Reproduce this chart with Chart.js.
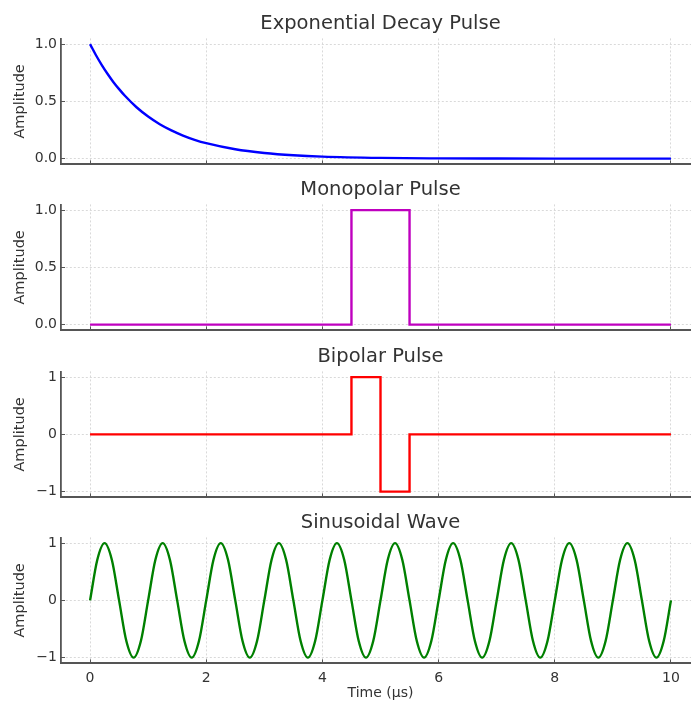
<!DOCTYPE html>
<html>
<head>
<meta charset="utf-8">
<script src="https://cdn.jsdelivr.net/npm/chart.js@4/dist/chart.umd.min.js"></script>
<style>
  body { margin: 0; background: #fff; }
  #wrap { position: relative; width: 691px; height: 702px; overflow: hidden; }
  canvas { position: absolute; left: 0; }
</style>
</head>
<body>
<div id="wrap">
  <canvas id="c1" width="700" height="159" style="top:12px"></canvas>
  <canvas id="c2" width="700" height="159" style="top:178px"></canvas>
  <canvas id="c3" width="700" height="159" style="top:345px"></canvas>
  <canvas id="c4" width="700" height="191" style="top:511px"></canvas>
</div>
<script>
// time axis ticks (µs)
const xTicks = [0, 2, 4, 6, 8, 10];
const unitTicks = [0, 0.5, 1];
const bipolarTicks = [-1, 0, 1];

// exponential decay pulse
const decayTimes = [0, 0.1, 0.2, 0.3, 0.4, 0.5, 0.6, 0.8, 1.0, 1.2, 1.4, 1.6, 1.8, 2.0, 2.5, 3, 3.5, 4, 5, 6, 7, 8, 10];
const decayValues = [1.0, 0.905, 0.819, 0.741, 0.67, 0.607, 0.549, 0.449, 0.368, 0.301, 0.247, 0.202, 0.165, 0.135,
  0.082, 0.05, 0.03, 0.018, 0.0067, 0.0025, 0.0009, 0.0003, 0];

// monopolar pulse
const monoTimes = [0, 4.5, 4.5, 5.5, 5.5, 10];
const monoValues = [0, 0, 1, 1, 0, 0];

// bipolar pulse
const bipolarTimes = [0, 4.5, 4.5, 5.0, 5.0, 5.5, 5.5, 10];
const bipolarValues = [0, 0, 1, 1, -1, -1, 0, 0];

// sinusoidal wave, 1 µs period
const sineTimes = [
  0, 0.125, 0.25, 0.375, 0.5, 0.625, 0.75, 0.875,
  1, 1.125, 1.25, 1.375, 1.5, 1.625, 1.75, 1.875,
  2, 2.125, 2.25, 2.375, 2.5, 2.625, 2.75, 2.875,
  3, 3.125, 3.25, 3.375, 3.5, 3.625, 3.75, 3.875,
  4, 4.125, 4.25, 4.375, 4.5, 4.625, 4.75, 4.875,
  5, 5.125, 5.25, 5.375, 5.5, 5.625, 5.75, 5.875,
  6, 6.125, 6.25, 6.375, 6.5, 6.625, 6.75, 6.875,
  7, 7.125, 7.25, 7.375, 7.5, 7.625, 7.75, 7.875,
  8, 8.125, 8.25, 8.375, 8.5, 8.625, 8.75, 8.875,
  9, 9.125, 9.25, 9.375, 9.5, 9.625, 9.75, 9.875,
  10
];
const sineValues = [
  0, 0.71, 1, 0.71, 0, -0.71, -1, -0.71,
  0, 0.71, 1, 0.71, 0, -0.71, -1, -0.71,
  0, 0.71, 1, 0.71, 0, -0.71, -1, -0.71,
  0, 0.71, 1, 0.71, 0, -0.71, -1, -0.71,
  0, 0.71, 1, 0.71, 0, -0.71, -1, -0.71,
  0, 0.71, 1, 0.71, 0, -0.71, -1, -0.71,
  0, 0.71, 1, 0.71, 0, -0.71, -1, -0.71,
  0, 0.71, 1, 0.71, 0, -0.71, -1, -0.71,
  0, 0.71, 1, 0.71, 0, -0.71, -1, -0.71,
  0, 0.71, 1, 0.71, 0, -0.71, -1, -0.71,
  0
];

const textColor = '#333';
const fontFamily = '"DejaVu Sans", sans-serif';
const titleBlock = 26.4; // title line height + padding

function toPoints(xs, ys) {
  return xs.map((x, i) => ({ x: x, y: ys[i] }));
}

function makePanel(id, opts) {
  const canvas = document.getElementById(id);
  const xAxisHeight = canvas.height - titleBlock - 126;
  return new Chart(canvas, {
    type: 'line',
    data: {
      datasets: [{
        data: toPoints(opts.times, opts.values),
        borderColor: opts.color,
        borderWidth: 2.4,
        pointRadius: 0,
        fill: false,
        cubicInterpolationMode: opts.smooth ? 'monotone' : 'default',
        tension: 0
      }]
    },
    options: {
      responsive: false,
      animation: false,
      layout: { padding: 0 },
      plugins: {
        legend: { display: false },
        tooltip: { enabled: false },
        title: {
          display: true,
          fullSize: false,
          text: opts.title,
          color: textColor,
          font: { family: fontFamily, size: 19.5, weight: 'normal', lineHeight: 1.2 },
          padding: { top: 0, bottom: 3 }
        }
      },
      scales: {
        x: {
          type: 'linear',
          min: -0.5,
          max: 10.5,
          afterBuildTicks: s => { s.ticks = xTicks.map(v => ({ value: v })); },
          afterFit: s => {
            s.height = xAxisHeight;
            s.paddingLeft = 0;
            s.paddingRight = 0;
          },
          ticks: {
            display: opts.showX,
            color: textColor,
            font: { family: fontFamily, size: 14 },
            padding: 11,
            maxRotation: 0,
            callback: v => String(v)
          },
          grid: { color: '#d9d9d9', lineWidth: 1, tickLength: -4, tickColor: '#555', tickWidth: 1 },
          border: { display: true, color: '#555', width: 2, dash: [2, 2] },
          title: {
            display: opts.showX,
            text: 'Time (µs)',
            color: textColor,
            font: { family: fontFamily, size: 14 },
            padding: { top: 0, bottom: 0 }
          }
        },
        y: {
          type: 'linear',
          min: opts.yMin,
          max: opts.yMax,
          afterBuildTicks: s => { s.ticks = opts.yTicks.map(v => ({ value: v })); },
          afterFit: s => {
            s.width = 61;
            s.paddingTop = 0;
            s.paddingBottom = 0;
          },
          ticks: {
            color: textColor,
            font: { family: fontFamily, size: 14 },
            padding: 8,
            callback: opts.fmt
          },
          grid: { color: '#d9d9d9', lineWidth: 1, tickLength: -4, tickColor: '#555', tickWidth: 1 },
          border: { display: true, color: '#555', width: 1.8, dash: [2, 2] },
          title: {
            display: true,
            text: 'Amplitude',
            color: textColor,
            font: { family: fontFamily, size: 14.5 },
            padding: { top: 12, bottom: 0 }
          }
        }
      }
    }
  });
}

const fmtOne = v => v.toFixed(1);
const fmtInt = v => (v < 0 ? '\u2212' + Math.abs(v) : String(v));

makePanel('c1', {
  title: 'Exponential Decay Pulse', times: decayTimes, values: decayValues,
  color: '#0000ff', smooth: true, yMin: -0.05, yMax: 1.05, yTicks: unitTicks, fmt: fmtOne, showX: false
});
makePanel('c2', {
  title: 'Monopolar Pulse', times: monoTimes, values: monoValues,
  color: '#bf00bf', smooth: false, yMin: -0.05, yMax: 1.05, yTicks: unitTicks, fmt: fmtOne, showX: false
});
makePanel('c3', {
  title: 'Bipolar Pulse', times: bipolarTimes, values: bipolarValues,
  color: '#ff0000', smooth: false, yMin: -1.1, yMax: 1.1, yTicks: bipolarTicks, fmt: fmtInt, showX: false
});
makePanel('c4', {
  title: 'Sinusoidal Wave', times: sineTimes, values: sineValues,
  color: '#008000', smooth: true, yMin: -1.1, yMax: 1.1, yTicks: bipolarTicks, fmt: fmtInt, showX: true
});
</script>
</body>
</html>
